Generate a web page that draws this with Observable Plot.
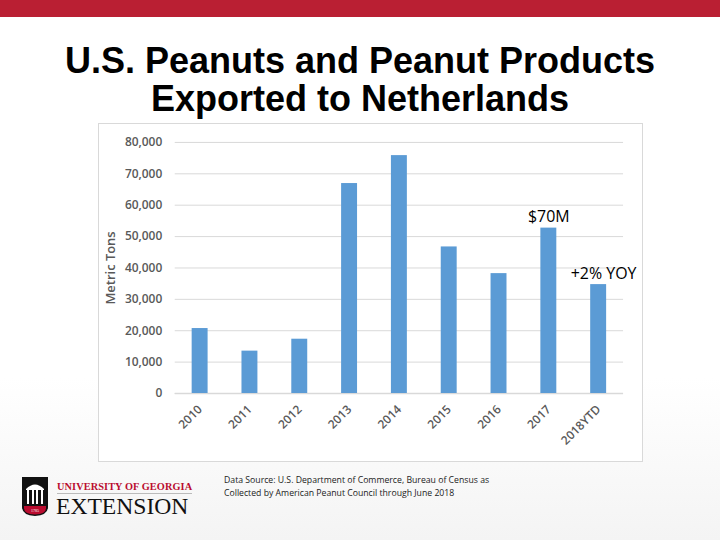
<!DOCTYPE html>
<html>
<head>
<meta charset="utf-8">
<script src="https://cdn.jsdelivr.net/npm/d3@7"></script>
<script src="https://cdn.jsdelivr.net/npm/@observablehq/plot@0.6"></script>
<style>
  html, body { margin: 0; padding: 0; }
  body { width: 720px; height: 540px; position: relative; overflow: hidden;
         background: linear-gradient(180deg, #ffffff 0%, #ffffff 70%, #f4f4f4 100%); font-family: "Liberation Sans", Arial, sans-serif; }
  #band { position: absolute; left: 0; top: 0; width: 720px; height: 17px; background: #ba1f33; }
  #title { position: absolute; left: 0; top: 42px; width: 720px; text-align: center;
           font-family: "Liberation Sans", Arial, sans-serif; font-weight: bold; font-size: 36px; line-height: 38px; color: #000; }
  #chart { position: absolute; left: 98px; top: 123px; width: 545px; height: 339px;
           border: 1px solid #d9d9d9; box-sizing: border-box; background: #fff; }
  #chart svg { position: absolute; left: -1px; top: -1px; }
  #source { position: absolute; left: 224px; top: 474px; font-family: "Open Sans", sans-serif; font-size: 8.7px; line-height: 12.5px; color: #222; }
  #logo { position: absolute; left: 22px; top: 477px; }
  #uga { position: absolute; left: 57px; top: 481px; font-family: "Liberation Serif", serif; font-weight: bold; font-size: 10.3px; color: #ba0c2f; letter-spacing: 0.1px; border-bottom: 1px solid #bbb; padding-bottom: 1px; }
  #ext { position: absolute; left: 56px; top: 494px; font-family: "Liberation Serif", serif; font-size: 23.6px; line-height: 24px; color: #111; }
</style>
</head>
<body>
<div id="band"></div>
<div id="title">U.S. Peanuts and Peanut Products<br>Exported to Netherlands</div>
<div id="chart"></div>
<svg id="logo" width="30" height="40" viewBox="0 0 30 40">
  <path d="M0 0 H26 V30 Q26 38 13 39 Q0 38 0 30 Z" fill="#111"/>
  <path d="M4 12 Q13 3 22 12 V13 H4 Z" fill="#fff"/>
  <rect x="5" y="13" width="2" height="14" fill="#fff"/>
  <rect x="10" y="13" width="2" height="14" fill="#fff"/>
  <rect x="14" y="13" width="2" height="14" fill="#fff"/>
  <rect x="19" y="13" width="2" height="14" fill="#fff"/>
  <path d="M2 29 H24 V31 Q24 37 13 37.5 Q2 37 2 31 Z" fill="#ba0c2f"/>
  <text x="13" y="35" font-size="4" fill="#fff" text-anchor="middle" font-family="Liberation Serif">1785</text>
</svg>
<div id="uga">UNIVERSITY OF GEORGIA</div>
<div id="ext">EXTENSION</div>
<div id="source">Data Source: U.S. Department of Commerce, Bureau of Census as<br>Collected by American Peanut Council through June 2018</div>
<script>
const years = ["2010", "2011", "2012", "2013", "2014", "2015", "2016", "2017", "2018YTD"];
const tons = [20700, 13500, 17300, 66900, 75800, 46700, 38200, 52700, 34700];
const yTicks = [0, 10000, 20000, 30000, 40000, 50000, 60000, 70000, 80000];
const noteYears = ["2017", "2018YTD"];
const noteTexts = ["$70M", "+2% YOY"];
const noteShift = [0, 5];

const data = years.map((year, i) => ({year, tons: tons[i]}));
const notes = noteYears.map((year, i) => ({year, text: noteTexts[i], tons: tons[years.indexOf(year)], dx: noteShift[i]}));

const chart = Plot.plot({
  width: 545,
  height: 339,
  marginLeft: 77,
  marginRight: 18,
  marginTop: 19,
  marginBottom: 68,
  style: {fontFamily: "Open Sans, sans-serif", fontSize: "12px", color: "#595959", background: "transparent", overflow: "visible"},
  x: {domain: years, paddingInner: 0.69, paddingOuter: 0.345},
  y: {domain: [0, 80000]},
  marks: [
    Plot.gridY(yTicks, {stroke: "#d9d9d9", strokeOpacity: 1}),
    Plot.ruleY([0], {stroke: "#d9d9d9", strokeWidth: 1.3}),
    Plot.barY(data, {x: "year", y: "tons", fill: "#5b9bd5"}),
    Plot.axisY(yTicks, {tickFormat: d3.format(","), tickSize: 0, tickPadding: 13, fill: "#595959", fontWeight: 600,
      label: null, fontSize: 12}),
    Plot.axisY({tickSize: 0, ticks: [], label: "Metric Tons", labelAnchor: "center", labelArrow: "none",
      labelOffset: 70, fontSize: 13, fontWeight: 600, fill: "#595959"}),
    Plot.axisX({tickRotate: -45, tickSize: 0, tickPadding: 14, label: null, fill: "#595959", fontSize: 12, fontWeight: 600}),
    Plot.text(notes.filter(d => d.dx === 0), {x: "year", y: "tons", text: "text", lineAnchor: "bottom", dy: -6,
      fill: "#000", fontSize: 16, fontFamily: "Open Sans, sans-serif"}),
    Plot.text(notes.filter(d => d.dx !== 0), {x: "year", y: "tons", text: "text", lineAnchor: "bottom", dy: -6, dx: 5,
      fill: "#000", fontSize: 16, fontFamily: "Open Sans, sans-serif"})
  ]
});
document.getElementById("chart").appendChild(chart);
</script>
</body>
</html>
